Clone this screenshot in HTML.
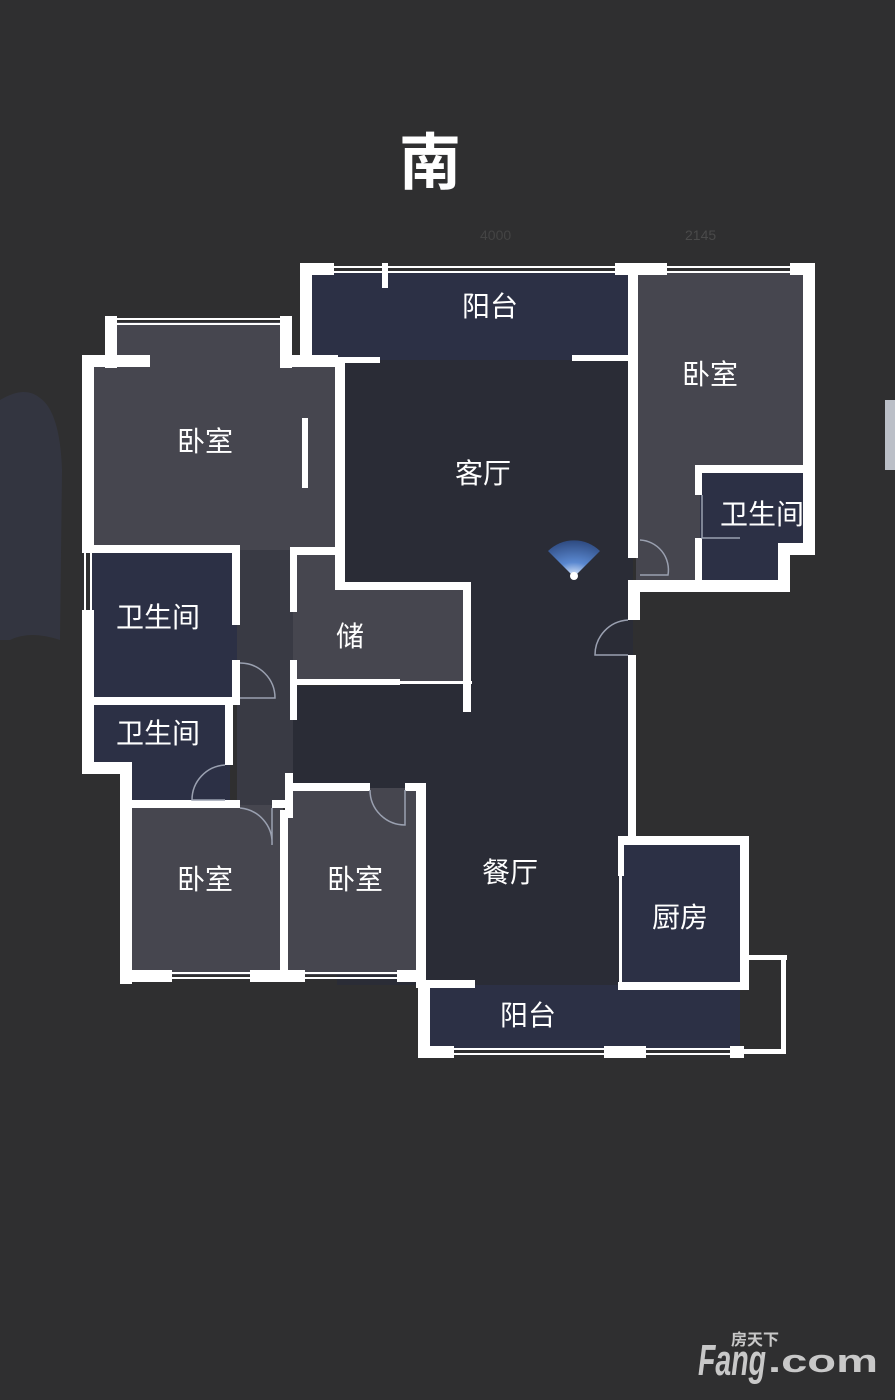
<!DOCTYPE html>
<html><head><meta charset="utf-8"><style>
html,body{margin:0;padding:0;background:#2f2f30;}
svg{display:block}
text{font-family:"Liberation Sans","Noto Sans CJK SC",sans-serif;fill:#fff}
</style></head><body>
<svg width="895" height="1400" viewBox="0 0 895 1400" xmlns="http://www.w3.org/2000/svg">
<rect width="895" height="1400" fill="#2f2f30"/>
<path d="M0 400 Q25 385 40 398 Q60 412 62 470 L60 640 Q30 630 10 640 L0 640 Z" fill="#3a3e55" opacity="0.45"/>
<rect x="885" y="400" width="10" height="70" fill="#dfe3ee" opacity="0.8"/>
<g>
<rect x="308" y="272" width="322" height="90" fill="#2c3045"/>
<rect x="92" y="362" width="245" height="188" fill="#46464f"/>
<rect x="117" y="322" width="170" height="45" fill="#46464f"/>
<rect x="337" y="360" width="296" height="625" fill="#2a2c36"/>
<rect x="237" y="550" width="56" height="255" fill="#393a44"/>
<rect x="92" y="550" width="145" height="150" fill="#2c3045"/>
<rect x="293" y="550" width="45" height="135" fill="#46464f"/>
<rect x="293" y="588" width="175" height="95" fill="#46464f"/>
<rect x="293" y="686" width="175" height="100" fill="#2a2c36"/>
<rect x="94" y="702" width="136" height="62" fill="#2c3045"/>
<rect x="130" y="760" width="100" height="42" fill="#2c3045"/>
<rect x="128" y="805" width="155" height="170" fill="#46464f"/>
<rect x="288" y="788" width="130" height="187" fill="#46464f"/>
<rect x="425" y="985" width="200" height="65" fill="#2c3045"/>
<rect x="636" y="272" width="170" height="200" fill="#46464f"/>
<rect x="636" y="470" width="64" height="114" fill="#46464f"/>
<rect x="700" y="470" width="80" height="112" fill="#2c3045"/>
<rect x="778" y="470" width="27" height="75" fill="#2c3045"/>
<rect x="620" y="842" width="122" height="143" fill="#2c3045"/>
<rect x="620" y="988" width="120" height="62" fill="#2c3045"/>
</g>
<g fill="#ffffff">
<rect x="300" y="263" width="34" height="12"/>
<rect x="300" y="263" width="12" height="100"/>
<rect x="332" y="266" width="285" height="2"/>
<rect x="332" y="271" width="285" height="2"/>
<rect x="382" y="263" width="6" height="25"/>
<rect x="615" y="263" width="52" height="12"/>
<rect x="667" y="266" width="125" height="2"/>
<rect x="667" y="271" width="125" height="2"/>
<rect x="790" y="263" width="25" height="12"/>
<rect x="572" y="355" width="58" height="6"/>
<rect x="105" y="316" width="12" height="52"/>
<rect x="117" y="318" width="163" height="2"/>
<rect x="117" y="323" width="163" height="2"/>
<rect x="280" y="316" width="12" height="52"/>
<rect x="82" y="355" width="68" height="12"/>
<rect x="280" y="355" width="58" height="12"/>
<rect x="82" y="355" width="12" height="195"/>
<rect x="82" y="610" width="12" height="160"/>
<rect x="84" y="550" width="2" height="60"/>
<rect x="90" y="550" width="2" height="60"/>
<rect x="335" y="360" width="10" height="228"/>
<rect x="338" y="357" width="42" height="6"/>
<rect x="302" y="418" width="6" height="70"/>
<rect x="82" y="545" width="158" height="8"/>
<rect x="232" y="545" width="8" height="80"/>
<rect x="232" y="660" width="8" height="45"/>
<rect x="290" y="547" width="48" height="8"/>
<rect x="290" y="547" width="7" height="65"/>
<rect x="290" y="660" width="7" height="60"/>
<rect x="335" y="582" width="135" height="8"/>
<rect x="463" y="582" width="8" height="130"/>
<rect x="297" y="679" width="103" height="6"/>
<rect x="400" y="681" width="72" height="3"/>
<rect x="82" y="697" width="158" height="8"/>
<rect x="225" y="697" width="8" height="68"/>
<rect x="82" y="762" width="50" height="12"/>
<rect x="120" y="762" width="12" height="222"/>
<rect x="120" y="800" width="120" height="8"/>
<rect x="272" y="800" width="20" height="8"/>
<rect x="285" y="773" width="8" height="35"/>
<rect x="285" y="800" width="8" height="18"/>
<rect x="280" y="810" width="8" height="170"/>
<rect x="290" y="783" width="80" height="8"/>
<rect x="405" y="783" width="20" height="8"/>
<rect x="416" y="783" width="10" height="205"/>
<rect x="120" y="970" width="52" height="12"/>
<rect x="172" y="972" width="78" height="2"/>
<rect x="172" y="977" width="78" height="2"/>
<rect x="250" y="970" width="55" height="12"/>
<rect x="305" y="972" width="92" height="2"/>
<rect x="305" y="977" width="92" height="2"/>
<rect x="397" y="970" width="28" height="12"/>
<rect x="418" y="980" width="12" height="78"/>
<rect x="418" y="980" width="57" height="8"/>
<rect x="418" y="1046" width="36" height="12"/>
<rect x="454" y="1048" width="150" height="2"/>
<rect x="454" y="1053" width="150" height="2"/>
<rect x="604" y="1046" width="42" height="12"/>
<rect x="646" y="1048" width="84" height="2"/>
<rect x="646" y="1053" width="84" height="2"/>
<rect x="730" y="1046" width="14" height="12"/>
<rect x="744" y="1049" width="42" height="5"/>
<rect x="781" y="957" width="5" height="96"/>
<rect x="745" y="955" width="42" height="5"/>
<rect x="628" y="263" width="10" height="295"/>
<rect x="803" y="263" width="12" height="292"/>
<rect x="778" y="543" width="37" height="12"/>
<rect x="778" y="543" width="12" height="48"/>
<rect x="628" y="580" width="162" height="12"/>
<rect x="628" y="580" width="12" height="40"/>
<rect x="628" y="655" width="8" height="185"/>
<rect x="695" y="465" width="110" height="8"/>
<rect x="695" y="465" width="7" height="30"/>
<rect x="695" y="538" width="7" height="45"/>
<rect x="618" y="836" width="130" height="9"/>
<rect x="740" y="836" width="9" height="154"/>
<rect x="618" y="982" width="128" height="8"/>
<rect x="618" y="836" width="6" height="40"/>
<rect x="619" y="876" width="3" height="110"/>
</g>
<g fill="none" stroke="#9aa0b0" stroke-width="1.5">
<path d="M240 663 A35 35 0 0 1 275 698 L240 698"/>
<path d="M640 540 A30 30 0 0 1 668 575 L640 575"/>
<path d="M628 620 A35 35 0 0 0 595 655 L628 655"/>
<path d="M225 765 A35 35 0 0 0 192 800 L225 800"/>
<path d="M240 808 A35 35 0 0 1 272 845 L272 808"/>
<path d="M370 790 A35 35 0 0 0 405 825 L405 790"/>
<path d="M702 495 L702 538 L740 538"/>
</g>
<defs><radialGradient id="g" cx="0.5" cy="1" r="1"><stop offset="0" stop-color="#e9f2ff"/><stop offset="0.4" stop-color="#5a88d0"/><stop offset="1" stop-color="#2e4a80"/></radialGradient></defs>
<path d="M574 577 L548 551 A37 37 0 0 1 600 551 Z" fill="url(#g)"/>
<circle cx="574" cy="576" r="4" fill="#fff"/>
<g font-size="28" text-anchor="middle">
<text x="490" y="316">阳台</text>
<text x="205" y="451">卧室</text>
<text x="483" y="483">客厅</text>
<text x="710" y="384">卧室</text>
<text x="762" y="524">卫生间</text>
<text x="158" y="627">卫生间</text>
<text x="350" y="646">储</text>
<text x="158" y="743">卫生间</text>
<text x="205" y="889">卧室</text>
<text x="355" y="889">卧室</text>
<text x="510" y="882">餐厅</text>
<text x="680" y="927">厨房</text>
<text x="528" y="1025">阳台</text>
</g>
<text x="430" y="184" font-size="62" font-weight="bold" text-anchor="middle">南</text>
<g font-size="14"><text x="685" y="240" style="fill:#4a4a4a">2145</text><text x="480" y="240" style="fill:#444">4000</text></g>
<text x="731" y="1345" font-size="16" font-weight="bold" style="fill:#c8c8c8">房天下</text>
<text x="698" y="1375" font-size="44" font-weight="bold" font-style="italic" style="fill:#c8c8c8" textLength="68" lengthAdjust="spacingAndGlyphs">Fang</text>
<text x="768" y="1372" font-size="32" font-weight="bold" style="fill:#c8c8c8" textLength="110" lengthAdjust="spacingAndGlyphs">.com</text>
</svg>
</body></html>
